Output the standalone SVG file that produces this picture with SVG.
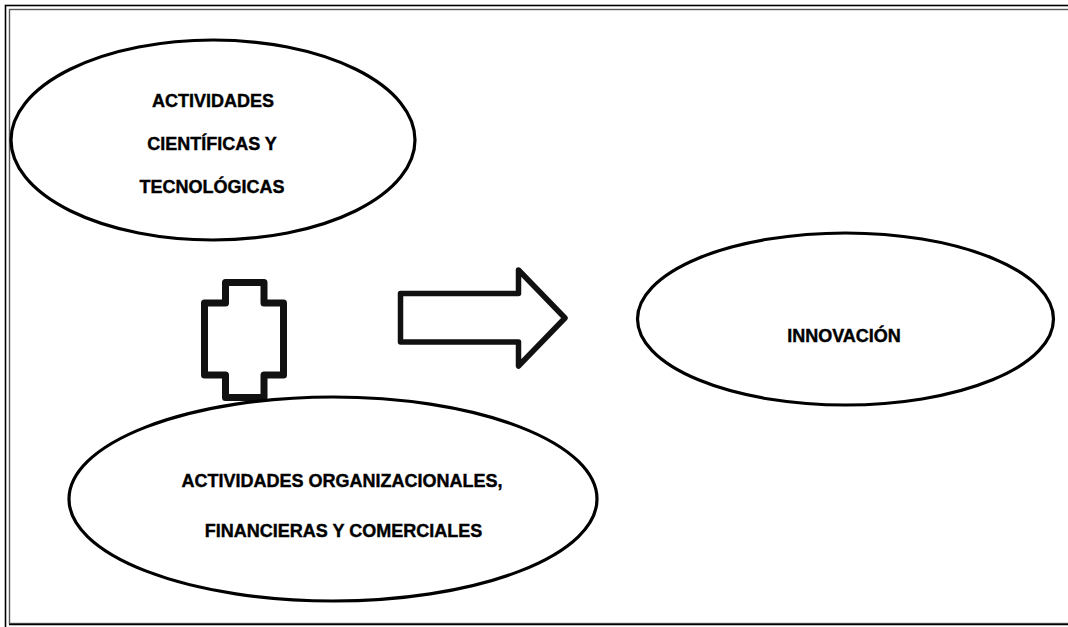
<svg xmlns="http://www.w3.org/2000/svg" width="1068" height="627" viewBox="0 0 1068 627">
<style>
.node ellipse{fill:#fff;stroke:#000;stroke-width:3.2}
.lbl{font-family:"Liberation Sans",Arial,sans-serif;font-weight:bold;font-size:18px;fill:#000;stroke:#000;stroke-width:0.4;text-anchor:middle}
.conn{fill:#fff;stroke:#111;stroke-linejoin:round}
</style>
<rect width="1068" height="627" fill="#fff"/>
<g id="frame" fill="none">
<rect x="5.5" y="5.5" width="1080" height="640" stroke="#000" stroke-width="1.6"/>
<rect x="9.5" y="9.5" width="1080" height="614" stroke="#555" stroke-width="1.4"/>
<line x1="9" y1="624.5" x2="1068" y2="624.5" stroke="#000" stroke-width="1.6"/>
</g>
<g id="connectors">
<path class="conn" stroke-width="7" d="M204.5,303 H225.5 V282.5 H264 V303 H283.5 V375 H264 V397.5 H225.5 V375 H204.5 Z"/>
<path class="conn" stroke-width="5.5" d="M400.5,293.5 H518.5 V270 L565,318 L518.5,366 V342 H400.5 Z"/>
</g>
<g id="n1" class="node">
<ellipse cx="213" cy="140" rx="202" ry="100"/>
<text class="lbl" x="213" y="107">ACTIVIDADES</text>
<text class="lbl" x="212" y="150">CIENTÍFICAS Y</text>
<text class="lbl" x="212" y="193">TECNOLÓGICAS</text>
</g>
<g id="n2" class="node">
<ellipse cx="845.5" cy="319" rx="208" ry="86"/>
<text class="lbl" x="844" y="342">INNOVACIÓN</text>
</g>
<g id="n3" class="node">
<ellipse cx="333" cy="499" rx="264" ry="102"/>
<text class="lbl" x="342" y="487">ACTIVIDADES ORGANIZACIONALES,</text>
<text class="lbl" x="343.5" y="537">FINANCIERAS Y COMERCIALES</text>
</g>
</svg>
